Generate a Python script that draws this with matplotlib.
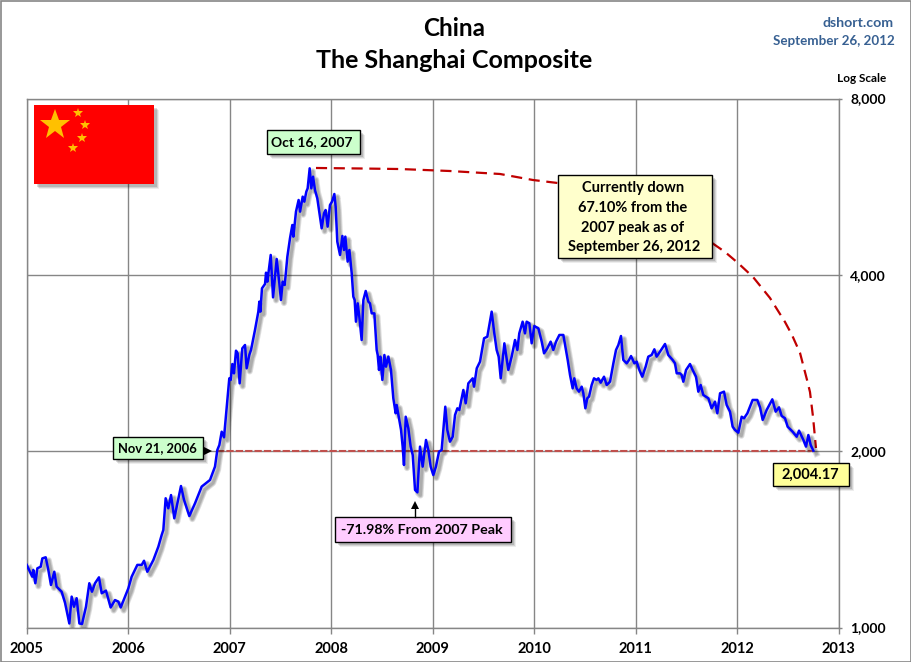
import matplotlib
matplotlib.use("Agg")
import matplotlib.pyplot as plt
import matplotlib.patheffects as pe
from matplotlib.patches import Rectangle, Polygon

# valores (anio decimal, indice)
years = [
    2005.002, 2005.034, 2005.057, 2005.067, 2005.087, 2005.107, 2005.140, 2005.156, 2005.189, 2005.215,
    2005.241, 2005.274, 2005.297, 2005.346, 2005.379, 2005.422, 2005.445, 2005.468, 2005.494, 2005.521,
    2005.547, 2005.586, 2005.619, 2005.645, 2005.675, 2005.714, 2005.741, 2005.783, 2005.829, 2005.872,
    2005.905, 2005.928, 2006.003, 2006.036, 2006.092, 2006.135, 2006.158, 2006.190, 2006.250, 2006.299,
    2006.332, 2006.348, 2006.371, 2006.397, 2006.424, 2006.456, 2006.522, 2006.552, 2006.604, 2006.660,
    2006.726, 2006.808, 2006.857, 2006.880, 2006.900, 2006.923, 2006.946, 2006.972, 2006.998,
    2007.012, 2007.028, 2007.044, 2007.064, 2007.080, 2007.100, 2007.126, 2007.153, 2007.169, 2007.195,
    2007.212, 2007.251, 2007.284, 2007.294, 2007.304, 2007.320, 2007.350, 2007.360, 2007.373, 2007.406,
    2007.429, 2007.465, 2007.491, 2007.507, 2007.524, 2007.544, 2007.570, 2007.596, 2007.619, 2007.629,
    2007.655, 2007.681, 2007.695, 2007.721, 2007.737, 2007.757, 2007.770, 2007.790, 2007.806, 2007.823,
    2007.842, 2007.865, 2007.882, 2007.908, 2007.931, 2007.947, 2007.967, 2007.990,
    2008.010, 2008.033, 2008.046, 2008.062, 2008.089, 2008.112, 2008.128, 2008.141, 2008.164, 2008.181,
    2008.204, 2008.220, 2008.233, 2008.246, 2008.263, 2008.279, 2008.302, 2008.319, 2008.342, 2008.368,
    2008.384, 2008.401, 2008.427, 2008.450, 2008.460, 2008.473, 2008.486, 2008.506, 2008.526, 2008.542,
    2008.565, 2008.591, 2008.614, 2008.637, 2008.647, 2008.690, 2008.706, 2008.719, 2008.736, 2008.762,
    2008.785, 2008.805, 2008.828, 2008.851, 2008.877, 2008.903, 2008.936, 2008.959, 2008.982,
    2009.008, 2009.034, 2009.064, 2009.090, 2009.126, 2009.146, 2009.172, 2009.199, 2009.222, 2009.245,
    2009.264, 2009.304, 2009.327, 2009.353, 2009.396, 2009.409, 2009.436, 2009.468, 2009.508, 2009.540,
    2009.583, 2009.609, 2009.632, 2009.652, 2009.672, 2009.708, 2009.747, 2009.780, 2009.813, 2009.836,
    2009.855, 2009.888, 2009.911, 2009.928, 2009.954, 2009.977,
    2010.003, 2010.043, 2010.076, 2010.099, 2010.131, 2010.164, 2010.190, 2010.217, 2010.250, 2010.289,
    2010.332, 2010.355, 2010.381, 2010.397, 2010.420, 2010.443, 2010.470, 2010.486, 2010.506, 2010.525,
    2010.542, 2010.568, 2010.591, 2010.617, 2010.634, 2010.657, 2010.690, 2010.716, 2010.749, 2010.782,
    2010.808, 2010.831, 2010.857, 2010.880, 2010.913, 2010.936, 2010.956, 2010.989,
    2011.012, 2011.038, 2011.067, 2011.100, 2011.126, 2011.159, 2011.186, 2011.208, 2011.241, 2011.291,
    2011.323, 2011.366, 2011.389, 2011.406, 2011.438, 2011.455, 2011.471, 2011.498, 2011.537, 2011.563,
    2011.596, 2011.619, 2011.642, 2011.668, 2011.718, 2011.750, 2011.783, 2011.806, 2011.833, 2011.872,
    2011.898, 2011.931, 2011.957, 2011.980,
    2012.013, 2012.046, 2012.069, 2012.102, 2012.154, 2012.200, 2012.227, 2012.253, 2012.292, 2012.348,
    2012.381, 2012.414, 2012.440, 2012.473, 2012.499, 2012.548, 2012.588, 2012.611, 2012.654, 2012.680,
    2012.703, 2012.726, 2012.752,
]
closes = [
    1279, 1245, 1221, 1254, 1190, 1262, 1270, 1312, 1318, 1254,
    1182, 1245, 1174, 1151, 1103, 1016, 1129, 1085, 1122, 1016,
    1014, 1085, 1190, 1151, 1190, 1218, 1144, 1156, 1082, 1114,
    1107, 1082, 1166, 1221, 1279, 1279, 1300, 1245, 1304, 1374,
    1439, 1467, 1662, 1598, 1683, 1536, 1744, 1651, 1550, 1629,
    1740, 1786, 1882, 2009, 2049, 2159, 2112, 2367, 2663,
    2646, 2817, 2716, 2969, 2938, 2611, 2996, 3036, 2770, 2919,
    2977, 3220, 3461, 3600, 3461, 3793, 3859, 4034, 3894, 4325,
    3661, 4257, 3869, 3623, 3894, 3843, 4296, 4617, 4866, 4648,
    5128, 5368, 5128, 5439, 5333, 5547, 5620, 6080, 5620, 5883,
    5584, 5403, 5161, 4802, 5094, 5161, 4834, 5263,
    5333, 5496, 5229, 4557, 4325, 4660, 4410, 4648, 4213, 4410,
    4024, 3671, 3623, 3327, 3576, 3394, 3096, 3623, 3754, 3600,
    3576, 3438, 3438, 2977, 2919, 2752, 2900, 2646, 2919, 2788,
    2900, 2752, 2462, 2321, 2398, 2174, 2036, 1894, 2290, 2188,
    2036, 1970, 1717, 1701, 2036, 1882, 2090, 2009, 1882,
    1821, 1882, 1996, 2009, 2382, 2174, 2076, 2117, 2306, 2367,
    2351, 2544, 2414, 2611, 2663, 2577, 2770, 2843, 3117, 3137,
    3461, 3178, 2977, 2900, 2663, 3056, 2752, 2900, 3096, 2977,
    3178, 3327, 3178, 3327, 3306, 3056,
    3271, 3241, 3076, 2938, 2996, 3076, 2977, 3076, 3158, 3158,
    2862, 2698, 2560, 2663, 2560, 2527, 2577, 2511, 2367, 2462,
    2478, 2594, 2663, 2646, 2663, 2618, 2680, 2594, 2628, 2825,
    2977, 3036, 3145, 2862, 2825, 2862, 2907, 2825,
    2843, 2752, 2680, 2788, 2900, 2919, 2985, 2900, 2957, 3048,
    2919, 2862, 2825, 2716, 2716, 2698, 2628, 2752, 2817, 2752,
    2680, 2527, 2594, 2494, 2462, 2367, 2430, 2321, 2511, 2527,
    2398, 2336, 2202, 2174,
    2151, 2290, 2276, 2321, 2446, 2446, 2376, 2261, 2351, 2452,
    2336, 2376, 2297, 2276, 2202, 2159, 2117, 2168, 2090, 2036,
    2131, 2049, 2004,
]

# arco punteado desde el maximo de 2007 hasta el ultimo cierre
arc_years = [2007.852, 2008.286, 2008.680, 2009.172, 2009.665, 2009.990, 2010.236, 2010.847,
             2011.438, 2011.754, 2011.882, 2012.010, 2012.158, 2012.325, 2012.473, 2012.542,
             2012.621, 2012.690, 2012.719, 2012.749, 2012.778]
arc_values = [6088, 6076, 6063, 6016, 5946, 5807, 5738, 5264,
              4734, 4534, 4376, 4190, 3966, 3652, 3323, 3157,
              2942, 2646, 2524, 2288, 2025]

level_years = [2006.88, 2012.75]
level_values = [2004.17, 2004.17]

x_ticks = [2005, 2006, 2007, 2008, 2009, 2010, 2011, 2012, 2013]
y_ticks = [1000, 2000, 4000, 8000]
y_labels = ["1,000", "2,000", "4,000", "8,000"]

FUENTE = "Lato"
GRIS = "#868686"
plt.rcParams["font.family"] = [FUENTE, "DejaVu Sans"]

W, H = 911, 662
fig = plt.figure(figsize=(W / 100, H / 100), dpi=100, facecolor="white")

# Eje principal
ax = fig.add_axes([26.5 / W, (H - 627.5) / H, 812 / W, 529 / H])
ax.set_yscale("log", base=2)
ax.set_xlim(2005, 2013)
ax.set_ylim(1000, 8000)
ax.minorticks_off()
ax.set_xticks(x_ticks)
ax.set_xticklabels([str(t) for t in x_ticks], fontweight="bold", fontsize=10.5)
ax.yaxis.tick_right()
ax.set_yticks(y_ticks)
ax.set_yticklabels(y_labels, fontweight="bold", fontsize=10)
ax.yaxis.set_minor_locator(matplotlib.ticker.NullLocator())
for lab in ax.get_yticklabels():
    lab.set_ha("right")
ax.tick_params(axis="x", length=4, width=1, color=GRIS, pad=6.5)
ax.tick_params(axis="y", length=2, width=1, color=GRIS, pad=32)
ax.grid(True, color=GRIS, linewidth=1)
ax.set_axisbelow(True)
for s in ax.spines.values():
    s.set_color(GRIS)
    s.set_linewidth(1)

ax.plot(level_years, level_values, color="#c0504d", linewidth=1.5, linestyle=(0, (3.5, 1)), zorder=2)
ax.plot(arc_years, arc_values, color="#c00000", linewidth=1.6, linestyle=(0, (5, 3)), zorder=2)

# sombra difusa de la linea
sombra = [pe.SimpleLineShadow(offset=(2.2, -2.2), shadow_color="k", alpha=0.12, linewidth=w) for w in (4.5, 3.2, 2)]
ax.plot(years, closes, color="#0000ff", linewidth=1.8, solid_joinstyle="round", zorder=3,
        path_effects=sombra + [pe.Normal()])

# Capa superior en pixeles para cajas y textos
top = fig.add_axes([0, 0, 1, 1], facecolor="none")
top.set_xlim(0, W)
top.set_ylim(H, 0)
top.axis("off")


def caja(x0, y0, x1, y1, color, borde="black"):
    for d, a in ((5, 0.07), (4, 0.10), (3, 0.14)):
        top.add_patch(Rectangle((x0 + d, y0 + d), x1 - x0, y1 - y0, facecolor="black", alpha=a, edgecolor="none"))
    top.add_patch(Rectangle((x0, y0), x1 - x0, y1 - y0, facecolor=color, edgecolor=borde, linewidth=1 if borde != "none" else 0))


def texto(x, y, s, size=10.5, ha="center", color="black"):
    top.text(x, y, s, fontsize=size, fontweight="bold", ha=ha, va="center", color=color)


# marco exterior
top.add_patch(Rectangle((0.5, 0.5), W - 1, H - 1, facecolor="none", edgecolor=GRIS, linewidth=1.2))

# bandera
caja(34, 105, 154, 184, "#ff0000", borde="none")
top.plot([55], [125], marker="*", color="#ffc000", markersize=23, markeredgewidth=0)
top.plot([78, 85, 82, 73], [113, 125, 138, 148], marker="*", color="#ffc000", markersize=7,
         markeredgewidth=0, linestyle="none")

# titulos
texto(454, 28, "China", size=17.5)
texto(454, 60, "The Shanghai Composite", size=18)
texto(894, 23, "dshort.com", size=10.2, ha="right", color="#376092")
texto(895, 41, "September 26, 2012", size=9.6, ha="right", color="#376092")
texto(886, 79, "Log Scale", size=8.5, ha="right")

# anotaciones
caja(267, 130, 360, 154, "#ccffcc")
texto(311.5, 142, "Oct 16, 2007", size=10)

caja(113, 437, 203, 459, "#ccffcc")
texto(157.5, 448, "Nov 21, 2006", size=9.4)
top.add_patch(Polygon([(204, 447), (204, 455), (212, 451)], facecolor="black", edgecolor="none"))

caja(335, 517, 511, 542, "#ffccff")
texto(422, 530, "-71.98% From 2007 Peak", size=10.3)
top.add_patch(Polygon([(411, 509), (419, 509), (415, 501)], facecolor="black", edgecolor="none"))
top.plot([415, 415], [509, 517], color="black", linewidth=1)

caja(558, 175, 712, 258, "#ffffcc")
texto(633, 188, "Currently down")
texto(633, 208, "67.10% from the")
texto(633, 228, "2007 peak as of")
texto(634, 247, "September 26, 2012")

caja(773, 463, 849, 486, "#ffff99")
texto(810, 475, "2,004.17", size=10.5)

fig.savefig("out.png", dpi=100)
